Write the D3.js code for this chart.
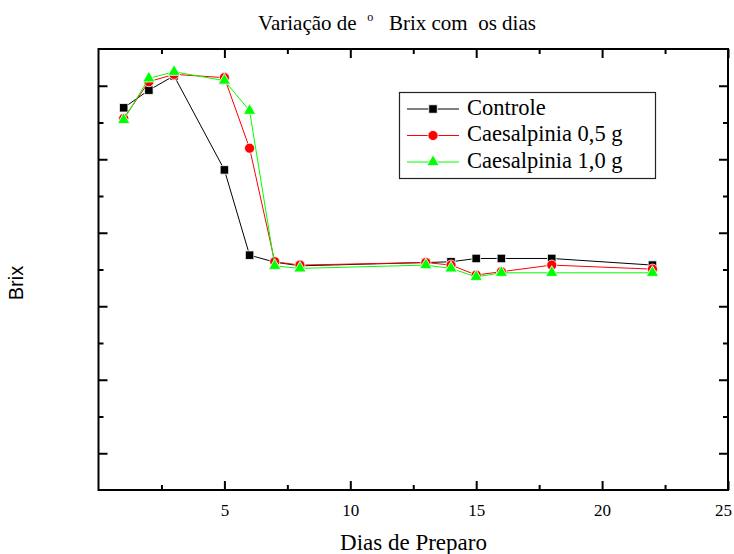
<!DOCTYPE html>
<html>
<head>
<meta charset="utf-8">
<script src="https://cdn.jsdelivr.net/npm/d3@7"></script>
<style>
  html, body { margin: 0; padding: 0; background: #fff; }
  svg { display: block; }
</style>
</head>
<body>
<svg id="chart" width="734" height="554"></svg>
<script>
// ---- data ----
const days = [1, 2, 3, 5, 6, 7, 8, 13, 14, 15, 16, 18, 22];
const controle = [10.40, 10.88, 11.27, 8.71, 6.39, 6.20, 6.10, 6.19, 6.21, 6.30, 6.30, 6.30, 6.12];
const caes05   = [10.11, 11.11, 11.31, 11.22, 9.30, 6.21, 6.12, 6.19, 6.12, 5.85, 5.94, 6.12, 6.01];
const caes10   = [10.07, 11.20, 11.38, 11.14, 10.32, 6.10, 6.03, 6.12, 6.03, 5.80, 5.91, 5.91, 5.91];
const seriesNames = ["Controle", "Caesalpinia 0,5 g", "Caesalpinia 1,0 g"];
const xMajorTicks = [5, 10, 15, 20, 25];
const xMinorTicks = [2.5, 7.5, 12.5, 17.5, 22.5];
const yMajorTicks = [1, 3, 5, 7, 9, 11];
const yMinorTicks = [2, 4, 6, 8, 10];

// ---- layout ----
const SERIF = "'Times New Roman', 'Liberation Serif', 'DejaVu Serif', serif";
const SANS = "Arial, 'Liberation Sans', sans-serif";
const svg = d3.select("#chart");
const L = 98.5, R = 728, T = 49, B = 490;
const x = d3.scaleLinear().domain([0, 25]).range([L, R]);
const y = d3.scaleLinear().domain([0, 12]).range([B, T]);

const series = [
  { name: seriesNames[0], values: controle, color: "#000000", shape: "square" },
  { name: seriesNames[1], values: caes05,   color: "#ff0000", shape: "circle" },
  { name: seriesNames[2], values: caes10,   color: "#00ff00", shape: "triangle" }
];

// ---- axes (ticks inward on all four sides) ----
const MAJ = 9, MIN = 5;
function addAxis(axisFn, scale, ticks, len, transform, labels) {
  const g = svg.append("g").attr("transform", transform)
    .call(axisFn(scale).tickValues(ticks).tickSizeInner(-len).tickSizeOuter(0)
      .tickFormat(labels ? d3.format("d") : () => ""));
  g.select(".domain").remove();
  g.selectAll(".tick line").attr("stroke", "#000").attr("stroke-width", 2);
  return g;
}
const xb = addAxis(d3.axisBottom, x, xMajorTicks, MAJ, `translate(0,${B})`, true);
xb.attr("font-family", null).attr("font-size", null);
xb.selectAll(".tick text").style("font-family", SERIF).style("font-size", "17px")
  .attr("fill", "#000").attr("y", 0).attr("dy", null)
  .attr("transform", d => `translate(${d === 25 ? -5 : 0},25.5)`);
addAxis(d3.axisBottom, x, xMinorTicks, MIN, `translate(0,${B})`, false);
addAxis(d3.axisTop, x, xMajorTicks, MAJ, `translate(0,${T})`, false);
addAxis(d3.axisTop, x, xMinorTicks, MIN, `translate(0,${T})`, false);
addAxis(d3.axisLeft, y, yMajorTicks, MAJ, `translate(${L},0)`, false);
addAxis(d3.axisLeft, y, yMinorTicks, MIN, `translate(${L},0)`, false);
addAxis(d3.axisRight, y, yMajorTicks, MAJ, `translate(${R},0)`, false);
addAxis(d3.axisRight, y, yMinorTicks, MIN, `translate(${R},0)`, false);

// frame
svg.append("rect").attr("x", L).attr("y", T).attr("width", R - L).attr("height", B - T)
  .attr("fill", "none").attr("stroke", "#000").attr("stroke-width", 2);

// ---- series ----
const line = d3.line().x((d, i) => x(days[i])).y(d => y(d));
const symbolTypes = { square: d3.symbolSquare, circle: d3.symbolCircle, triangle: d3.symbolTriangle };
const symbolSizes = { square: 72, circle: 80, triangle: 66 };

function drawMarker(sel, s) {
  sel.append("path")
    .attr("d", d3.symbol().type(symbolTypes[s.shape]).size(symbolSizes[s.shape])())
    .attr("fill", s.color).attr("stroke", "#fff").attr("stroke-width", 0.8);
}

series.forEach(s => {
  svg.append("path").datum(s.values).attr("d", line)
    .attr("fill", "none").attr("stroke", s.color).attr("stroke-width", 1);
  s.values.forEach((v, i) => {
    const g = svg.append("g").attr("transform", `translate(${x(days[i])},${y(v)})`);
    drawMarker(g, s);
  });
});

// ---- legend ----
const lg = svg.append("g");
lg.append("rect").attr("x", 399.5).attr("y", 92.5).attr("width", 256).attr("height", 86)
  .attr("fill", "#fff").attr("stroke", "#222").attr("stroke-width", 1.2);
series.forEach((s, i) => {
  const cy = 109 + i * 26.5;
  lg.append("line").attr("x1", 407).attr("x2", 459).attr("y1", cy).attr("y2", cy)
    .attr("stroke", s.color).attr("stroke-width", 1);
  const g = lg.append("g").attr("transform", `translate(433,${cy})`);
  drawMarker(g, s);
  lg.append("text").style("font-family", SERIF).attr("x", 467).attr("y", cy + 5.5)
    .style("font-size", "22.5px").attr("fill", "#000").text(s.name);
});

// ---- titles ----
const title = svg.append("text").style("font-family", SERIF).attr("x", 397).attr("y", 29.5)
  .attr("text-anchor", "middle").style("font-size", "21px").attr("fill", "#000")
  .style("white-space", "pre");
title.append("tspan").text("Variação de  ");
title.append("tspan").style("font-size", "12px").attr("dy", -9).text("o");
title.append("tspan").attr("dy", 9).text("   Brix com  os dias");

svg.append("text").style("font-family", SERIF).attr("x", 413.5).attr("y", 550)
  .attr("text-anchor", "middle").style("font-size", "23px").attr("fill", "#000")
  .text("Dias de Preparo");

svg.append("text").attr("transform", "translate(23,283) rotate(-90)")
  .attr("text-anchor", "middle").style("font-family", SANS)
  .style("font-size", "20px").attr("fill", "#000").text("Brix");
</script>
</body>
</html>
